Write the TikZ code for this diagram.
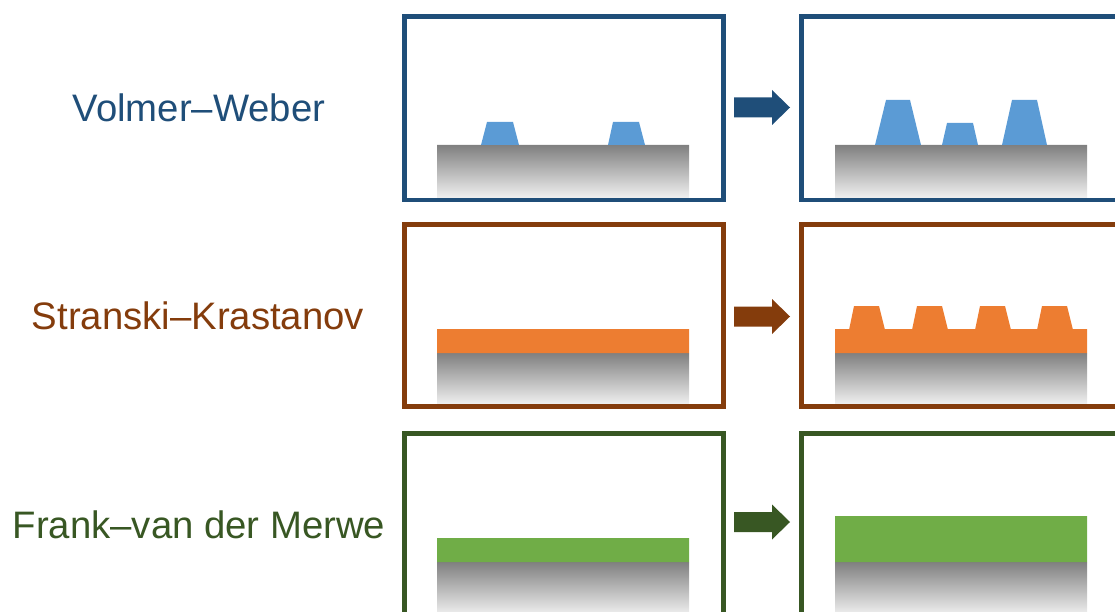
\documentclass[tikz,border=0pt]{standalone}
\usepackage{fontspec}
\setmainfont{Liberation Sans}
\definecolor{vwline}{HTML}{1F4E79}
\definecolor{vwfill}{HTML}{5B9BD5}
\definecolor{skline}{HTML}{843C0C}
\definecolor{skfill}{HTML}{ED7D31}
\definecolor{fmline}{HTML}{385723}
\definecolor{fmfill}{HTML}{70AD47}
\tikzset{%
    frm/.style={line width = 4.5pt},
    sub/.style={top color=black!50, bottom color=black!4},
    lbl/.style={anchor=base, inner sep=0pt, font=\fontsize{38.3}{40}\selectfont}
}

\begin{document}
\begin{tikzpicture}[x=1pt,y=-1pt]
    \useasboundingbox (0,0) rectangle (1115,612);
    \clip (0,0) rectangle (1115,612);
    % Volmer-Weber: islands on bare substrate
    \node[lbl,text=vwline] (vw) at (199,122) {Volmer–Weber};
    \shade[sub] (437,145) rectangle (689,200) (835,145) rectangle (1087,200);
    \fill[vwfill] (481,145)--(487,122)--(513,122)--(519,145)--cycle
                  (608,145)--(613,122)--(639,122)--(645,145)--cycle;
    \fill[vwfill] (875,145)--(886,100)--(910,100)--(921,145)--cycle
                  (942,145)--(947,123)--(973,123)--(978,145)--cycle
                  (1002,145)--(1012,100)--(1037,100)--(1047,145)--cycle;
    \draw[frm,vwline] (404.5,16.5) rectangle (723.5,200) (801.5,16.5) rectangle (1120.5,200);
    \fill[vwline] (734,97.5)--(772,97.5)--(772,90)--(790,107.5)--(772,125)--(772,117.5)--(734,117.5)--cycle;
    % Stranski-Krastanov: wetting layer, then islands
    \node[lbl,text=skline] (sk) at (198,329) {Stranski–Krastanov};
    \shade[sub] (437,353) rectangle (689,406.5) (835,353) rectangle (1087,406.5);
    \fill[skfill] (437,329) rectangle (689,353) (835,329) rectangle (1087,353);
    \foreach \b in {849,912,975,1037}
        \fill[skfill] (\b,330)--(\b+5,306)--(\b+30,306)--(\b+36,330)--cycle;
    \draw[frm,skline] (404.5,224.5) rectangle (723.5,406.5) (801.5,224.5) rectangle (1120.5,406.5);
    \fill[skline] (734,306.5)--(772,306.5)--(772,299)--(790,316.5)--(772,334)--(772,326.5)--(734,326.5)--cycle;
    % Frank-van der Merwe: layer by layer
    \node[lbl,text=fmline] (fm) at (199,538) {Frank–van der Merwe};
    \shade[sub] (437,562) rectangle (689,617) (835,562) rectangle (1087,617);
    \fill[fmfill] (437,538) rectangle (689,562) (835,516) rectangle (1087,562);
    \draw[frm,fmline] (404.5,433.5) rectangle (723.5,617) (801.5,433.5) rectangle (1120.5,617);
    \fill[fmline] (734,512)--(772,512)--(772,504.5)--(790,522)--(772,539.5)--(772,532)--(734,532)--cycle;
\end{tikzpicture}
\end{document}
